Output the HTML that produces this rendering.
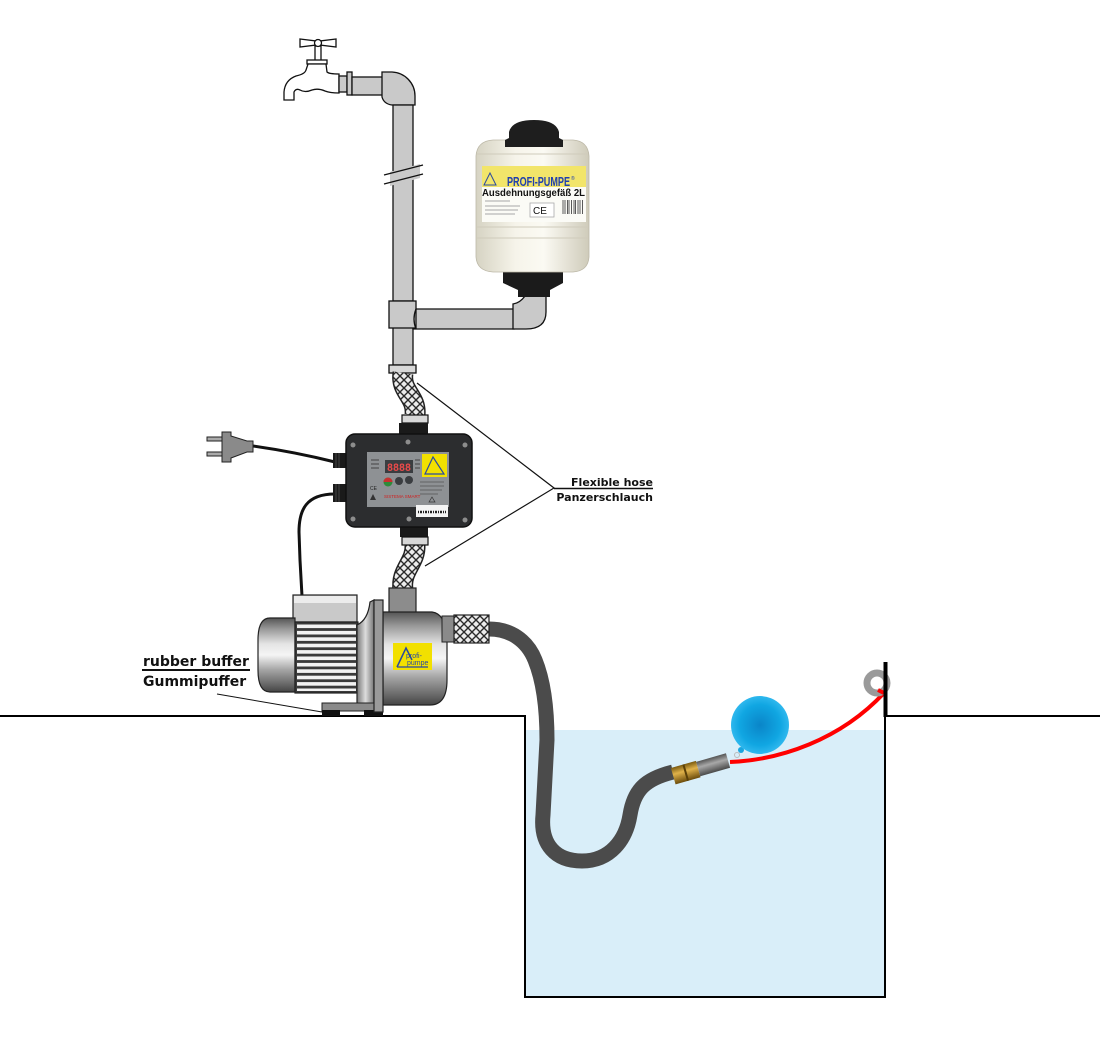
<!DOCTYPE html>
<html><head><meta charset="utf-8"><style>
html,body{margin:0;padding:0;background:#fff;}
svg{display:block;}
</style></head><body>
<svg width="1100" height="1037" viewBox="0 0 1100 1037" xmlns="http://www.w3.org/2000/svg">
<defs>
<pattern id="braid" width="8" height="8" patternUnits="userSpaceOnUse">
<rect width="8" height="8" fill="#ececec"/>
<path d="M0,0 L8,8 M8,0 L0,8" stroke="#2a2a2a" stroke-width="1.4"/>
</pattern>
<linearGradient id="metal" x1="0" y1="0" x2="0" y2="1">
<stop offset="0" stop-color="#555"/><stop offset="0.15" stop-color="#999"/>
<stop offset="0.35" stop-color="#e4e4e4"/><stop offset="0.5" stop-color="#f5f5f5"/>
<stop offset="0.7" stop-color="#a5a5a5"/><stop offset="0.9" stop-color="#666"/>
<stop offset="1" stop-color="#444"/>
</linearGradient>
<linearGradient id="metalH" x1="0" y1="0" x2="1" y2="0">
<stop offset="0" stop-color="#777"/><stop offset="0.5" stop-color="#ddd"/><stop offset="1" stop-color="#777"/>
</linearGradient>
<linearGradient id="tankG" x1="0" y1="0" x2="1" y2="0">
<stop offset="0" stop-color="#d6d3c3"/><stop offset="0.35" stop-color="#f6f4ea"/>
<stop offset="0.6" stop-color="#fbfaf3"/><stop offset="1" stop-color="#cfcbba"/>
</linearGradient>
<radialGradient id="ball" cx="0.5" cy="0.5" r="0.5">
<stop offset="0" stop-color="#0a85c8"/><stop offset="0.7" stop-color="#10a6e2"/><stop offset="1" stop-color="#2fb8ee"/>
</radialGradient>
<linearGradient id="brass" x1="0" y1="0" x2="0" y2="1">
<stop offset="0" stop-color="#7a5a10"/><stop offset="0.4" stop-color="#e0b24a"/><stop offset="1" stop-color="#6b4c0c"/>
</linearGradient>
<linearGradient id="strainer" x1="0" y1="0" x2="0" y2="1">
<stop offset="0" stop-color="#555"/><stop offset="0.4" stop-color="#a8a8a8"/><stop offset="1" stop-color="#4a4a4a"/>
</linearGradient>
</defs>

<!-- water -->
<rect x="526" y="730" width="359" height="267" fill="#d9eef9"/>
<!-- ground / tank -->
<path d="M0,716 L525,716 L525,997 L885,997 L885,716 L1100,716" fill="none" stroke="#000" stroke-width="2"/>
<rect x="883.5" y="662" width="4" height="55" fill="#000"/>

<!-- tap -->
<g stroke="#111" stroke-width="1.3" fill="#fff">
<path d="M300,39 L316,41 L316,45 L300,47 Z"/>
<path d="M336,39 L320,41 L320,45 L336,47 Z"/>
<rect x="315" y="46" width="6" height="15"/>
<circle cx="318" cy="43" r="3.5"/>
<rect x="307" y="60" width="20" height="4"/>
<path d="M308,64 L326,64 L327,72 Q329,74 339,74 L339,93 Q330,93 325,91 Q318,88 312,90 Q305,93 300,90 Q296,88 294,92 L294,100 L284,100 L284,92 Q285,80 296,76 Q305,74 306,70 Z"/>
</g>
<g stroke="#111" stroke-width="1.3" fill="#c9c9c9">
<rect x="339" y="76" width="8" height="16"/>
<rect x="347" y="72" width="5" height="23"/>
<rect x="352" y="77" width="31" height="18"/>
<path d="M382,72 L392,72 A24,24 0 0 1 415,96 L415,105 L392,105 Q384,104 382,97 Z"/>
<rect x="393" y="105" width="20" height="196"/>
</g>
<!-- pipe break -->
<path d="M390,172 L420,164 L420,178 L390,186 Z" fill="#c9c9c9"/>
<rect x="391.5" y="170" width="3" height="14" fill="#fff" opacity="0"/>
<path d="M392.4,171 L392.4,182 M413.6,166 L413.6,177" stroke="#c9c9c9" stroke-width="2"/>
<path d="M384,175 L423,165 M384,184 L423,174" stroke="#111" stroke-width="1.3"/>

<!-- T and branch -->
<g stroke="#111" stroke-width="1.3" fill="#c9c9c9">
<rect x="393" y="327" width="20" height="38"/>
<path d="M413,309 L514,309 L514,329 L413,329 Z"/>
<path d="M513,304 Q520,303 525,296 L546,296 L546,312 Q546,329 526,329 L513,329 Z"/>
<rect x="389" y="301" width="27" height="27"/>
<path d="M416,309 Q412,319 416,329" fill="none"/>
<rect x="389" y="365" width="27" height="8" fill="#d8d8d8"/>
</g>

<!-- expansion tank -->
<path d="M503,272 L563,272 L563,283 L550,290 L550,297 L518,297 L518,290 L503,283 Z" fill="#1b1b1b"/>
<path d="M476,156 Q477,141 493,140 L573,140 Q588,141 589,156 L589,257 Q588,271 573,272 L493,272 Q477,271 476,257 Z" fill="url(#tankG)" stroke="#bdb9a8" stroke-width="0.8"/>
<path d="M477,154 L588,154 M477,227 L588,227 M477,238 L588,238" stroke="#cfcbbb" stroke-width="1"/>
<path d="M505,147 L505,140 L509,138 L509,132 Q512,120 534,120 Q556,120 559,132 L559,138 L563,140 L563,147 Z" fill="#1e1e1e"/>
<rect x="482" y="166" width="104" height="21" fill="#f2e56a"/>
<path d="M484,185 L490,173 L496,185 Z" fill="none" stroke="#2a4aa0" stroke-width="1"/>
<text x="507" y="186" font-family="Liberation Sans, sans-serif" font-weight="bold" font-size="12.5" fill="#1f3fae" textLength="63" lengthAdjust="spacingAndGlyphs">PROFI-PUMPE</text>
<text x="571" y="180" font-family="Liberation Sans, sans-serif" font-size="5" fill="#1f3fae">®</text>
<rect x="482" y="187" width="104" height="35" fill="#fbfbf6"/>
<text x="482" y="196" font-family="Liberation Sans, sans-serif" font-weight="bold" font-size="10" fill="#111" textLength="103" lengthAdjust="spacingAndGlyphs">Ausdehnungsgefäß 2L</text>
<path d="M485,201 L510,201 M485,206 L520,206 M485,210 L518,210 M485,214 L515,214" stroke="#b8b8b8" stroke-width="1.2"/>
<rect x="530" y="203" width="24" height="14" fill="#fff" stroke="#aaa" stroke-width="0.8"/>
<text x="533" y="214" font-family="Liberation Sans, sans-serif" font-size="10" fill="#111">CE</text>
<g stroke="#333" stroke-width="0.8">
<path d="M563,200 V214 M565,200 V214 M567.5,200 V214 M569,200 V214 M571.5,200 V214 M574,200 V214 M575.5,200 V214 M578,200 V214 M580,200 V214 M582.5,200 V214"/>
</g>

<!-- upper braided hose -->
<path d="M403,373 C400,392 417,396 415,415" fill="none" stroke="#222" stroke-width="21"/>
<path d="M403,373 C400,392 417,396 415,415" fill="none" stroke="url(#braid)" stroke-width="18"/>
<rect x="402" y="415" width="26" height="8" fill="#d8d8d8" stroke="#111" stroke-width="1.2"/>
<rect x="399" y="423" width="29" height="13" fill="#1a1a1a"/>

<!-- lower braided hose -->
<path d="M415,545 C416,563 400,570 403,590" fill="none" stroke="#222" stroke-width="21"/>
<path d="M415,545 C416,563 400,570 403,590" fill="none" stroke="url(#braid)" stroke-width="18"/>
<rect x="400" y="526" width="28" height="11" fill="#1a1a1a"/>
<rect x="402" y="537" width="26" height="8" fill="#d8d8d8" stroke="#111" stroke-width="1.2"/>

<!-- cables -->
<path d="M253,446 Q295,452 335,462" fill="none" stroke="#111" stroke-width="3"/>
<path d="M335,494 C306,494 299,510 299,532 L300,560 L302,596" fill="none" stroke="#111" stroke-width="3"/>
<!-- plug -->
<g stroke="#222" stroke-width="1">
<rect x="207" y="437" width="17" height="4" fill="#aaa"/>
<rect x="207" y="452" width="17" height="4" fill="#aaa"/>
<path d="M222,432 L231,432 L231,436 L247,441 L253,441 L253,452 L247,452 L231,458 L231,462 L222,462 Z" fill="#8a8a8a"/>
</g>

<!-- controller -->
<rect x="333" y="453" width="14" height="15" fill="#1a1a1a"/>
<rect x="333" y="484" width="14" height="18" fill="#1a1a1a"/>
<path d="M336,453 V468 M339,453 V468 M336,484 V502 M339,484 V502" stroke="#444" stroke-width="1"/>
<rect x="346" y="434" width="126" height="93" rx="9" fill="#2c2d2f" stroke="#101010" stroke-width="1.5"/>
<g fill="#8d8d8d">
<circle cx="353" cy="445" r="2.5"/><circle cx="408" cy="442" r="2.5"/><circle cx="465" cy="445" r="2.5"/>
<circle cx="353" cy="519" r="2.5"/><circle cx="409" cy="519" r="2.5"/><circle cx="465" cy="520" r="2.5"/>
</g>
<rect x="367" y="452" width="82" height="55" fill="#8e9194"/>
<rect x="422" y="454" width="25" height="23" fill="#f2e000"/>
<path d="M425,474 L433,457 L444,474 Z" fill="none" stroke="#2a4aa0" stroke-width="1.2"/>
<rect x="385" y="460" width="28" height="13" fill="#3a3d40"/>
<text x="387" y="471" font-family="Liberation Mono, monospace" font-weight="bold" font-size="11" fill="#e84a4a" textLength="24" lengthAdjust="spacingAndGlyphs">8888</text>
<path d="M371,460 h8 M371,464 h8 M371,468 h8 M415,460 h5 M415,464 h5 M415,468 h5" stroke="#444" stroke-width="1"/>
<circle cx="388" cy="482" r="4.5" fill="#2e8b3a"/>
<path d="M383.5,482 A4.5,4.5 0 0 1 392.5,482 Z" fill="#c83030"/>
<circle cx="399" cy="481" r="4" fill="#3a3d40"/>
<circle cx="409" cy="480" r="4" fill="#3a3d40"/>
<text x="384" y="498" font-family="Liberation Sans, sans-serif" font-size="4.5" fill="#d02020">SISTEMA SMART</text>
<path d="M420,482 h24 M420,486 h24 M420,490 h22 M420,494 h18" stroke="#555" stroke-width="0.8"/>
<path d="M429,502 L432,497 L435,502 Z" fill="none" stroke="#333" stroke-width="0.7"/>
<text x="370" y="490" font-family="Liberation Sans, sans-serif" font-size="5" fill="#222">CE</text>
<path d="M370,500 L373,494 L376,500 Z" fill="#333"/>
<rect x="416" y="505" width="32" height="12" fill="#f4f4f4"/>
<path d="M418,512 h28" stroke="#222" stroke-width="2.5" stroke-dasharray="1 1 2 1"/>

<!-- leader lines flexible hose -->
<path d="M417,383 L554,488 L425,566" fill="none" stroke="#111" stroke-width="1.2"/>
<path d="M554,488.5 L653,488.5" stroke="#111" stroke-width="1.5"/>
<g font-family="DejaVu Sans, Liberation Sans, sans-serif" font-weight="bold" font-size="11" fill="#111" text-anchor="end">
<text x="653" y="486">Flexible hose</text>
<text x="653" y="501">Panzerschlauch</text>
</g>

<!-- pump -->
<path d="M489,629 C510,629 527,640 535,660 C544,682 547,710 547,740 L543,815 C540,845 556,861 582,861 C610,861 626,840 630,815 C634,790 645,779 673,772" fill="none" stroke="#4b4b4b" stroke-width="15"/>
<rect x="293" y="595" width="64" height="27" fill="#c9c9c9" stroke="#222" stroke-width="1.2"/>
<rect x="294" y="596" width="62" height="7" fill="#ececec"/>
<path d="M270,618 L295,618 L295,692 L270,692 Q258,692 258,670 L258,640 Q258,618 270,618 Z" fill="url(#metal)" stroke="#222" stroke-width="1.2"/>
<rect x="295" y="622" width="63" height="71" fill="#3a3a3a" stroke="#222" stroke-width="1.2"/>
<g fill="#f2f2f2">
<rect x="297" y="624.5" width="59" height="3.6"/><rect x="297" y="630.9" width="59" height="3.6"/>
<rect x="297" y="637.3" width="59" height="3.6"/><rect x="297" y="643.7" width="59" height="3.6"/>
<rect x="297" y="650.1" width="59" height="3.6"/><rect x="297" y="656.5" width="59" height="3.6"/>
<rect x="297" y="662.9" width="59" height="3.6"/><rect x="297" y="669.3" width="59" height="3.6"/>
<rect x="297" y="675.7" width="59" height="3.6"/><rect x="297" y="682.1" width="59" height="3.6"/>
<rect x="297" y="688.5" width="59" height="2.5"/>
</g>
<path d="M357,625 Q368,620 370,602 L374,600 L374,705 L357,705 Z" fill="url(#metalH)" stroke="#222" stroke-width="1.2"/>
<rect x="322" y="703" width="61" height="8" fill="#8a8a8a" stroke="#222" stroke-width="1"/>
<rect x="322" y="710" width="18" height="6" fill="#111"/>
<rect x="364" y="710" width="19" height="6" fill="#111"/>
<rect x="389" y="588" width="27" height="26" fill="#8c8c8c" stroke="#222" stroke-width="1.2"/>
<path d="M383,612 L432,612 Q447,614 447,642 L447,680 Q447,705 430,705 L383,705 Z" fill="url(#metal)" stroke="#222" stroke-width="1.2"/>
<rect x="374" y="600" width="9" height="112" fill="#9a9a9a" stroke="#222" stroke-width="1.2"/>
<rect x="442" y="616" width="13" height="26" fill="#8a8a8a" stroke="#222" stroke-width="1"/>
<rect x="454" y="615" width="35" height="28" fill="url(#braid)" stroke="#222" stroke-width="1.2"/>
<rect x="393" y="643" width="39" height="27" fill="#f2e000"/>
<path d="M397,667 L406,648 L412,660" fill="none" stroke="#2a4aa0" stroke-width="1.5"/>
<path d="M397,667 L428,667" stroke="#2a4aa0" stroke-width="1.2"/>
<text x="406" y="658" font-family="Liberation Sans, sans-serif" font-size="7" fill="#2a4aa0">profi-</text>
<text x="407" y="665" font-family="Liberation Sans, sans-serif" font-size="7" fill="#2a4aa0">pumpe</text>

<!-- rubber buffer label -->
<path d="M217,694 L322,712" stroke="#111" stroke-width="1"/>
<g font-family="DejaVu Sans, Liberation Sans, sans-serif" font-weight="bold" font-size="14" fill="#111">
<text x="143" y="666">rubber buffer</text>
<text x="143" y="686">Gummipuffer</text>
</g>
<rect x="142" y="669" width="108" height="2" fill="#111"/>

<!-- strainer, float, rope -->
<g transform="rotate(-16 700 768)">
<rect x="672" y="760" width="26" height="17" fill="url(#brass)"/>
<rect x="684" y="760" width="2" height="17" fill="#5a4008"/>
<rect x="698" y="761" width="31" height="15" fill="url(#strainer)"/>
</g>
<path d="M730,762 C780,760 840,740 884,693" fill="none" stroke="#ff0000" stroke-width="4"/>
<circle cx="741" cy="750" r="3" fill="#1aa6e0"/>
<circle cx="737" cy="755" r="2.5" fill="none" stroke="#bbb" stroke-width="1"/>
<circle cx="760" cy="725" r="29" fill="url(#ball)"/>
<circle cx="877" cy="683" r="10" fill="none" stroke="#9a9a9a" stroke-width="7"/>
<path d="M884,693 L878,690" stroke="#ff0000" stroke-width="4"/>
<rect x="883.5" y="662" width="4" height="55" fill="#000"/>
</svg>
</body></html>
